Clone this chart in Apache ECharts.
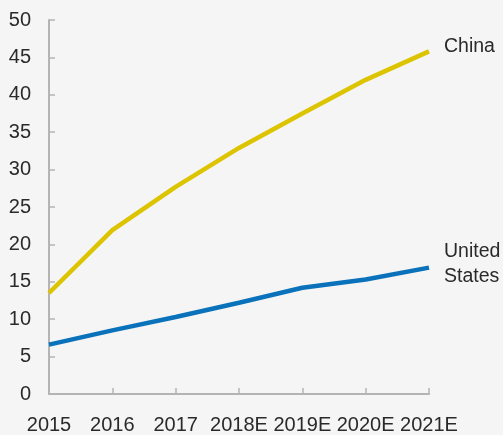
<!DOCTYPE html>
<html>
<head>
<meta charset="utf-8">
<script src="https://cdn.jsdelivr.net/npm/echarts@6/dist/echarts.min.js"></script>
<style>
html,body{margin:0;padding:0;background:#f5f5f5;}
#c{width:503px;height:435px;}
</style>
</head>
<body>
<div id="c"></div>
<script>
const categories = ['2015','2016','2017','2018E','2019E','2020E','2021E'];
const china = [13.5, 21.9, 27.7, 32.9, 37.5, 42.0, 45.8];
const unitedStates = [6.6, 8.5, 10.3, 12.2, 14.2, 15.3, 16.9];
const yTicks = [0,5,10,15,20,25,30,35,40,45,50];

const chart = echarts.init(document.getElementById('c'), null, {renderer:'canvas'});
const font = 'Liberation Sans, Arial, Helvetica, sans-serif';
chart.setOption({
  backgroundColor:'#f5f5f5',
  animation:false,
  grid:{left:49,right:74,top:20,bottom:41,containLabel:false},
  xAxis:{
    type:'category',
    data:categories,
    boundaryGap:false,
    axisLine:{lineStyle:{color:'#b4b4b4',width:2}},
    axisTick:{inside:true,length:6,lineStyle:{color:'#b4b4b4',width:1.5}},
    axisLabel:{color:'#2a2a2a',fontSize:20,fontFamily:font,margin:21,interval:0},
    splitLine:{show:false}
  },
  yAxis:{
    type:'value',
    min:yTicks[0],
    max:yTicks[yTicks.length-1],
    interval:5,
    axisLine:{show:true,lineStyle:{color:'#b4b4b4',width:2}},
    axisTick:{show:true,inside:true,length:6,lineStyle:{color:'#b4b4b4',width:1.5}},
    axisLabel:{color:'#2a2a2a',fontSize:20,fontFamily:font,margin:18},
    splitLine:{show:false}
  },
  series:[
    {
      name:'China',type:'line',data:china,symbol:'none',
      lineStyle:{color:'#dcc400',width:4.5},
      endLabel:{show:true,formatter:'China',color:'#2a2a2a',fontSize:19.5,fontFamily:font,distance:15,offset:[0,-5]}
    },
    {
      name:'United States',type:'line',data:unitedStates,symbol:'none',
      lineStyle:{color:'#0a72ba',width:4.5},
      endLabel:{show:true,formatter:'United\nStates',color:'#2a2a2a',fontSize:19.5,fontFamily:font,lineHeight:25,distance:15,offset:[0,-3]}
    }
  ]
});
</script>
</body>
</html>
